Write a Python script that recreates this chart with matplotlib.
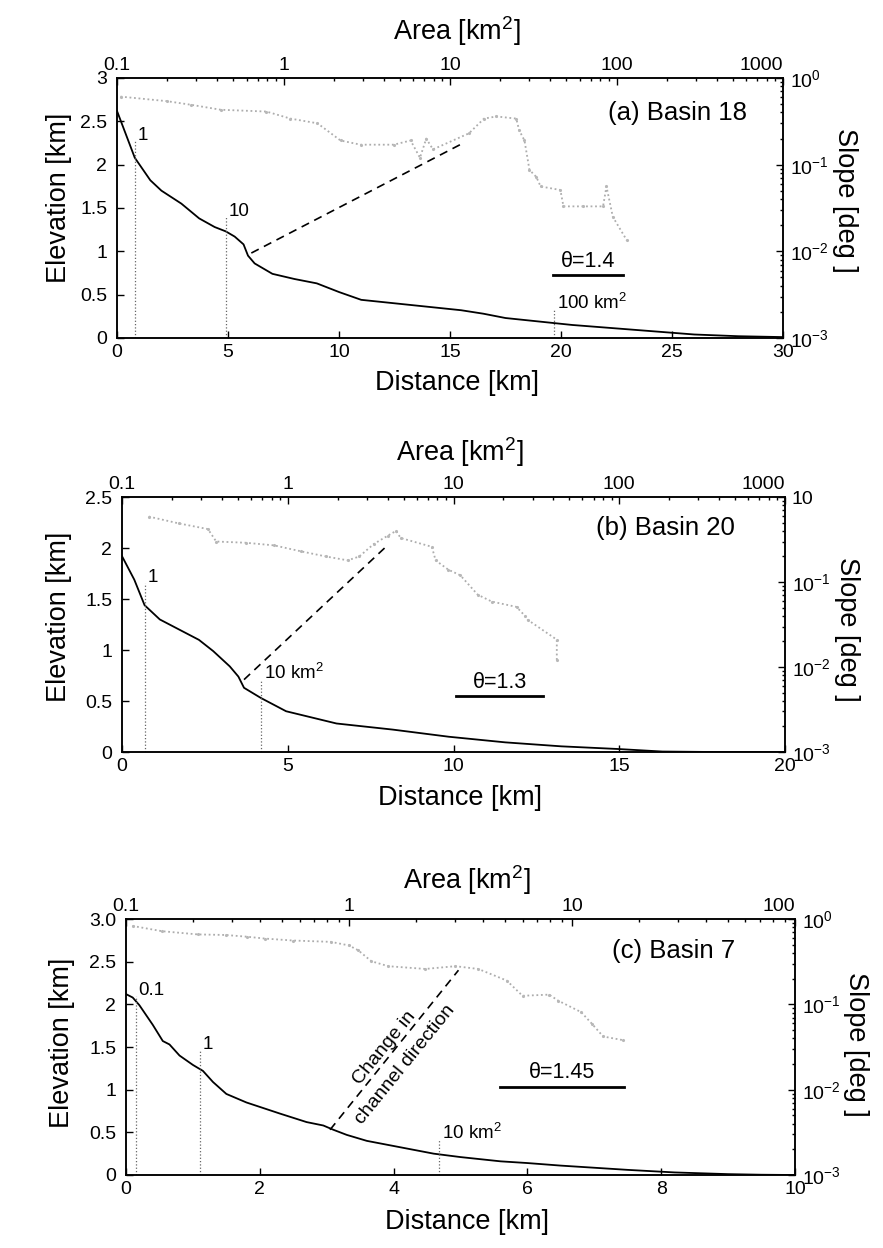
import matplotlib.pyplot as plt
import matplotlib.ticker as mticker

plt.rcParams['font.family'] = ['Liberation Sans', 'DejaVu Sans']
plt.rcParams['mathtext.fontset'] = 'custom'
plt.rcParams['mathtext.rm'] = 'Liberation Sans'
plt.rcParams['mathtext.it'] = 'Liberation Sans:italic'
plt.rcParams['mathtext.default'] = 'regular'

# ---------------- (a) Basin 18 ----------------
dist_a = [0, 0.4, 0.8, 1.5, 2.0, 2.9, 3.7, 4.4, 4.9, 5.3, 5.7, 5.9, 6.2, 7.0, 8.0, 9.0,
          10.0, 11.0, 12.5, 14.0, 15.5, 16.5, 17.5, 19.0, 20.5, 22.0, 24.0, 26.0, 28.0, 30.0]
elev_a = [2.62, 2.35, 2.08, 1.82, 1.70, 1.55, 1.38, 1.28, 1.23, 1.17, 1.08, 0.95, 0.86, 0.74, 0.68, 0.63,
          0.53, 0.44, 0.40, 0.36, 0.32, 0.28, 0.23, 0.19, 0.15, 0.12, 0.08, 0.04, 0.02, 0.01]
area_a = [0.105, 0.20, 0.28, 0.42, 0.79, 1.1, 1.6, 2.2, 2.9, 4.6, 5.8, 6.6, 7.2, 7.9, 13, 16,
          19, 25, 26, 28, 30, 33, 35, 46, 48, 63, 83, 87, 95, 115]
slope_a = [0.61, 0.54, 0.49, 0.43, 0.41, 0.34, 0.30, 0.19, 0.17, 0.17, 0.19, 0.12, 0.20, 0.15, 0.23, 0.34,
           0.36, 0.34, 0.25, 0.19, 0.087, 0.072, 0.056, 0.051, 0.033, 0.033, 0.033, 0.056, 0.025, 0.0135]
mark_dist_a = [0.8, 4.9, 19.7]
mark_top_a = [2.28, 1.40, 0.32]
mark_lab_a = ['1', '10', '100 km$^2$']
dash_a = ([6.05, 15.45], [0.98, 2.23])
theta_a = ('θ=1.4', [19.65, 22.8], 0.73)

# ---------------- (b) Basin 20 ----------------
dist_b = [0, 0.37, 0.68, 1.14, 1.73, 2.32, 2.75, 3.25, 3.51, 3.68, 4.19, 4.95, 6.47, 8.17,
          9.86, 11.56, 13.25, 14.95, 16.3, 18.0, 20.0]
elev_b = [1.92, 1.69, 1.44, 1.30, 1.20, 1.10, 0.99, 0.84, 0.74, 0.63, 0.53, 0.40, 0.28, 0.22,
          0.15, 0.095, 0.056, 0.03, 0.005, 0.0, 0.0]
area_b = [0.145, 0.22, 0.33, 0.37, 0.56, 0.83, 1.2, 1.7, 2.3, 2.7, 3.3, 4.0, 4.5, 4.8,
          7.4, 7.8, 9.3, 11, 14, 17, 24, 27, 28, 42, 42]
slope_b = [0.59, 0.49, 0.42, 0.30, 0.29, 0.27, 0.23, 0.20, 0.18, 0.20, 0.28, 0.35, 0.40, 0.33,
           0.26, 0.18, 0.14, 0.12, 0.071, 0.059, 0.051, 0.040, 0.036, 0.021, 0.012]
mark_dist_b = [0.68, 4.19]
mark_top_b = [1.66, 0.71]
mark_lab_b = ['1', '10 km$^2$']
dash_b = ([3.68, 7.92], [0.71, 2.0])
theta_b = ('θ=1.3', [10.07, 12.71], 0.55)

# ---------------- (c) Basin 7 ----------------
dist_c = [0, 0.1, 0.2, 0.4, 0.55, 0.65, 0.8, 1.0, 1.15, 1.3, 1.5, 1.8, 2.3, 2.7, 2.95, 3.1,
          3.3, 3.6, 4.0, 4.6, 5.0, 5.6, 6.0, 6.5, 7.1, 7.5, 8.2, 9.0, 9.5, 10.0]
elev_c = [2.12, 2.08, 1.99, 1.76, 1.57, 1.53, 1.40, 1.29, 1.22, 1.09, 0.95, 0.85, 0.72, 0.62, 0.58, 0.53,
          0.47, 0.40, 0.34, 0.25, 0.21, 0.16, 0.14, 0.11, 0.08, 0.06, 0.03, 0.01, 0.003, 0.0]
area_c = [0.107, 0.145, 0.21, 0.28, 0.35, 0.42, 0.56, 0.83, 1.0, 1.1, 1.26, 1.5, 2.2, 3.0,
          3.8, 5.1, 6.0, 7.9, 8.7, 11, 12.3, 13.8, 17]
slope_c = [0.83, 0.72, 0.66, 0.65, 0.62, 0.59, 0.56, 0.54, 0.49, 0.43, 0.32, 0.28, 0.26, 0.28,
           0.26, 0.19, 0.126, 0.13, 0.11, 0.081, 0.059, 0.042, 0.038]
mark_dist_c = [0.15, 1.10, 4.68]
mark_top_c = [2.10, 1.46, 0.41]
mark_lab_c = ['0.1', '1', '10 km$^2$']
dash_c = ([3.05, 4.97], [0.53, 2.40])
theta_c = ('θ=1.45', [5.59, 7.44], 1.03)

TICK = 14
LAB = 19.5


def draw_panel(rect, dist, elev, area, slope, marks, dash, theta, title,
               xmax, xticks, ymax, yticks, yticklabels, amax, aticks, sticklabels,
               label_pos, title_pos, theta_dy):
    ax = fig.add_axes(rect)
    ax.plot(dist, elev, color='black', lw=1.3)
    for d, top, lab in zip(*marks):
        ax.plot([d, d], [0, top], color='0.4', ls=':', lw=0.9)
        ax.text(d + xmax * 0.004, top - ymax * 0.012, lab, fontsize=13.5, ha='left', va='bottom')
    ax.plot(dash[0], dash[1], color='black', ls=(0, (5, 3.5)), lw=1.2)
    ax.plot(theta[1], [theta[2], theta[2]], color='black', lw=2)
    ax.text(sum(theta[1]) / 2, theta[2] + theta_dy, theta[0], fontsize=15.5, ha='center', va='center')
    ax.text(title_pos[0], title_pos[1], title, transform=ax.transAxes, fontsize=18.5,
            ha='right', va='center')
    ax.set_xlim(0, xmax)
    ax.set_ylim(0, ymax)
    ax.set_xticks(xticks)
    ax.set_yticks(yticks)
    ax.set_yticklabels(yticklabels)
    ax.tick_params(direction='in', length=5, width=1, labelsize=TICK)
    ax.tick_params(axis='y', pad=7)
    ax.tick_params(axis='x', pad=4)
    ax.set_xlabel('Distance [km]', fontsize=LAB, va='center')
    ax.set_ylabel('Elevation [km]', fontsize=LAB, va='center')
    ax.xaxis.set_label_coords(label_pos[0], label_pos[1])
    ax.yaxis.set_label_coords(label_pos[2], label_pos[3])

    # slope-area on top/right log axes
    ax2 = fig.add_axes(rect, facecolor='none')
    ax2.plot(area, slope, color='0.68', ls=(0, (1, 1.5)), lw=1.3)
    ax2.plot(area, slope, ls='none', marker='.', ms=2.5, color='0.72')
    ax2.set_xscale('log')
    ax2.set_yscale('log')
    ax2.set_xlim(0.1, amax)
    ax2.set_ylim(1e-3, 1)
    ax2.xaxis.tick_top()
    ax2.yaxis.tick_right()
    ax2.xaxis.set_label_position('top')
    ax2.yaxis.set_label_position('right')
    ax2.xaxis.set_major_locator(mticker.FixedLocator(aticks))
    ax2.xaxis.set_major_formatter(mticker.FixedFormatter([('%g' % a) for a in aticks]))
    ax2.yaxis.set_major_locator(mticker.FixedLocator([1e-3, 1e-2, 1e-1, 1]))
    ax2.yaxis.set_major_formatter(mticker.FixedFormatter(sticklabels))
    ax2.xaxis.set_minor_locator(mticker.LogLocator(base=10, subs=range(2, 10), numticks=20))
    ax2.yaxis.set_minor_locator(mticker.LogLocator(base=10, subs=range(2, 10), numticks=20))
    ax2.xaxis.set_minor_formatter(mticker.NullFormatter())
    ax2.yaxis.set_minor_formatter(mticker.NullFormatter())
    ax2.tick_params(which='both', direction='in', width=1, labelsize=TICK)
    ax2.tick_params(which='major', length=5)
    ax2.tick_params(which='minor', length=2.5)
    ax2.tick_params(axis='x', pad=3)
    ax2.tick_params(axis='y', pad=5)
    for lbl in ax2.get_xticklabels():
        if lbl.get_text() == '%g' % aticks[-1]:
            lbl.set_horizontalalignment('right')
    ax2.set_xlabel('Area [km$^2$]', fontsize=LAB, va='center')
    ax2.set_ylabel('Slope [deg ]', fontsize=LAB, rotation=270, va='center')
    ax2.xaxis.set_label_coords(label_pos[0], label_pos[4])
    ax2.yaxis.set_label_coords(label_pos[5], label_pos[6])
    for sp in list(ax.spines.values()) + list(ax2.spines.values()):
        sp.set_linewidth(1.1)
    return ax, ax2


fig = plt.figure(figsize=(8.83, 12.48), dpi=100)

draw_panel([0.1325, 0.7292, 0.7543, 0.2083], dist_a, elev_a, area_a, slope_a,
           (mark_dist_a, mark_top_a, mark_lab_a), dash_a, theta_a, '(a) Basin 18',
           30, [0, 5, 10, 15, 20, 25, 30], 3, [0, 0.5, 1, 1.5, 2, 2.5, 3],
           ['0', '0.5', '1', '1.5', '2', '2.5', '3'], 1000, [0.1, 1, 10, 100, 1000],
           ['$10^{-3}$', '$10^{-2}$', '$10^{-1}$', '$10^{0}$'],
           (0.51, -0.175, -0.087, 0.54, 1.18, 1.093, 0.53), (0.946, 0.865), 0.15)

draw_panel([0.1382, 0.3974, 0.7508, 0.2043], dist_b, elev_b, area_b, slope_b,
           (mark_dist_b, mark_top_b, mark_lab_b), dash_b, theta_b, '(b) Basin 20',
           20, [0, 5, 10, 15, 20], 2.5, [0, 0.5, 1, 1.5, 2, 2.5],
           ['0', '0.5', '1', '1.5', '2', '2.5'], 1000, [0.1, 1, 10, 100, 1000],
           ['$10^{-3}$', '$10^{-2}$', '$10^{-1}$', '10'],
           (0.51, -0.18, -0.095, 0.53, 1.176, 1.094, 0.48), (0.925, 0.878), 0.13)

draw_panel([0.1427, 0.0585, 0.7576, 0.2051], dist_c, elev_c, area_c, slope_c,
           (mark_dist_c, mark_top_c, mark_lab_c), dash_c, theta_c, '(c) Basin 7',
           10, [0, 2, 4, 6, 8, 10], 3, [0, 0.5, 1, 1.5, 2, 2.5, 3],
           ['0', '0.5', '1', '1.5', '2', '2.5', '3.0'], 100, [0.1, 1, 10, 100],
           ['$10^{-3}$', '$10^{-2}$', '$10^{-1}$', '$10^{0}$'],
           (0.51, -0.184, -0.096, 0.515, 1.152, 1.091, 0.51), (0.911, 0.877), 0.17)

# annotation along the dashed line in (c)
fig.axes[-2].text(4.02, 1.39, 'Change in\nchannel direction', fontsize=14,
                  rotation=51, ha='center', va='center', multialignment='center',
                  rotation_mode='anchor', linespacing=1.8)

plt.savefig('out.png', dpi=100)
